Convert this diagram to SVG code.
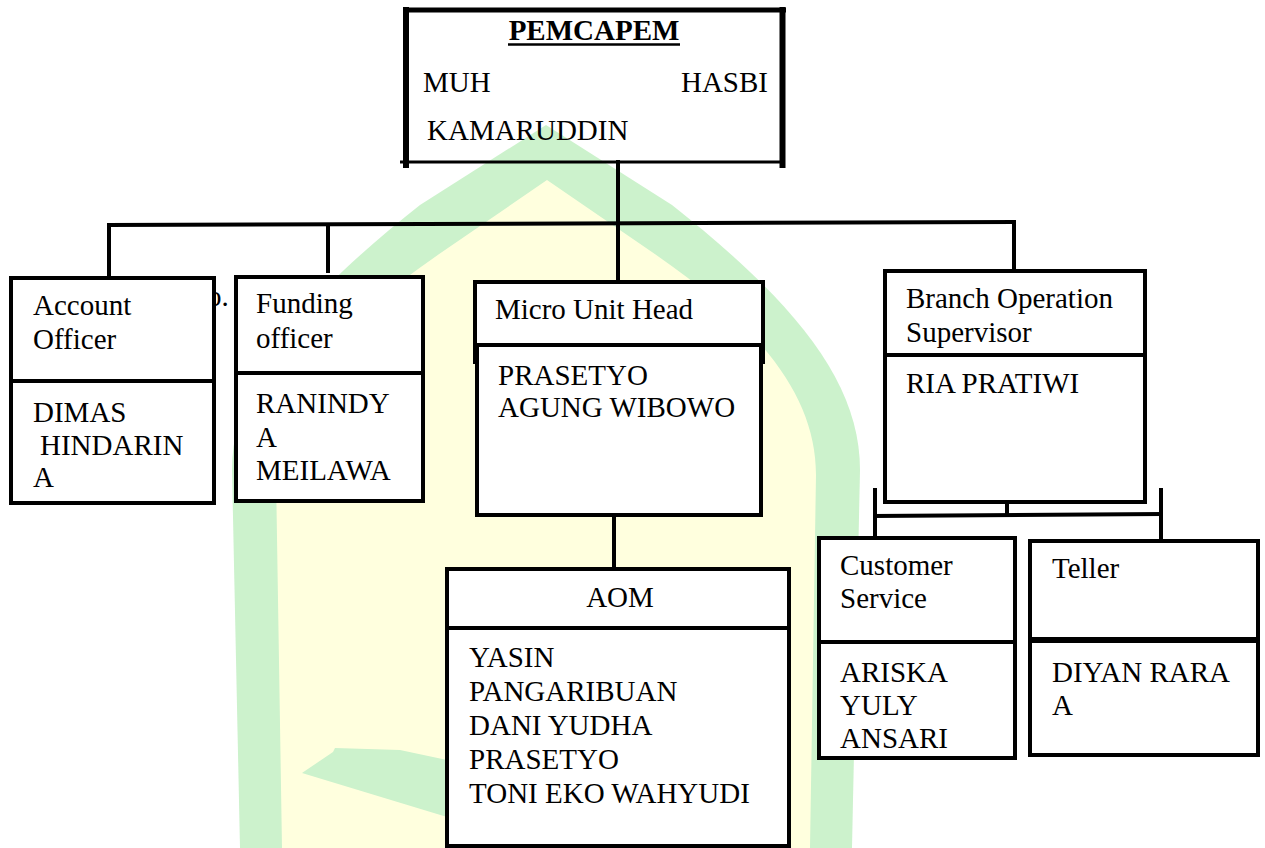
<svg xmlns="http://www.w3.org/2000/svg" width="1265" height="848" viewBox="0 0 1265 848">
<style>
text{font-family:"Liberation Serif","Times New Roman",serif;font-size:29px;fill:#000}
.b{fill:#fff;stroke:#000;stroke-width:4}
.ln{stroke:#000;stroke-width:4;fill:none}
.c{stroke:#000;stroke-width:4;fill:none}
</style>
<rect width="1265" height="848" fill="#fff"/>
<g id="watermark">
<path d="M 240 848 L 232 470 C 232 380 300 300 420 205 L 546 125 L 672 205 C 792 300 860 380 860 470 L 852 848 Z" fill="#ccf2cc"/>
<path d="M 282 848 L 276 475 C 276 395 335 325 445 250 L 547 180 L 649 250 C 759 325 816 395 816 475 L 810 848 Z" fill="#ffffde"/>
<polygon points="302,773 333,752 335,748 400,750 447,760 447,817" fill="#ccf2cc"/>
</g>
<g id="connectors">
<path class="c" d="M 107 225 L 1016 222"/>
<path class="c" d="M 109 223 L 109 277"/>
<path class="c" d="M 328 224 L 328 273"/>
<path class="c" d="M 618 160 L 618 282"/>
<path class="c" d="M 1014 220 L 1014 271"/>
<path class="c" d="M 614 495 L 614 571"/>
<path class="c" d="M 1007 473 L 1007 515"/>
<path class="c" d="M 873 516 L 1163 514"/>
<path class="c" d="M 875 488 L 875 546"/>
<path class="c" d="M 1161 488 L 1161 540"/>
</g>
<g id="pemcapem">
<path d="M 403 10 L 786 10" stroke="#000" stroke-width="5"/>
<path d="M 406 7 L 406 168" stroke="#000" stroke-width="6"/>
<path d="M 782.5 7 L 782.5 168" stroke="#000" stroke-width="6"/>
<path d="M 400 162 L 785 162" stroke="#000" stroke-width="3"/>
<text x="594" y="40" text-anchor="middle" font-weight="bold">PEMCAPEM</text>
<path d="M 508 44.5 L 680 44.5" stroke="#000" stroke-width="2.5"/>
<text x="423" y="92">MUH</text>
<text x="768" y="92" text-anchor="end">HASBI</text>
<text x="427" y="140">KAMARUDDIN</text>
</g>
<text x="207" y="306">o.</text>
<g id="account-officer">
<rect class="b" x="11" y="278" width="203" height="225"/>
<path class="ln" d="M 11 381 L 214 381"/>
<text x="33" y="315">Account</text>
<text x="33" y="349">Officer</text>
<text x="33" y="422">DIMAS</text>
<text x="40" y="455">HINDARIN</text>
<text x="33" y="487">A</text>
</g>
<g id="funding-officer">
<rect class="b" x="236" y="277" width="187" height="224"/>
<path class="ln" d="M 236 373 L 423 373"/>
<text x="256" y="313">Funding</text>
<text x="256" y="348">officer</text>
<text x="256" y="413">RANINDY</text>
<text x="256" y="447">A</text>
<text x="256" y="480">MEILAWA</text>
</g>
<g id="micro-unit-head">
<rect class="b" x="475" y="282" width="288" height="80"/>
<rect class="b" x="477" y="345" width="284" height="170"/>
<text x="495" y="319">Micro Unit Head</text>
<text x="498" y="385">PRASETYO</text>
<text x="498" y="417">AGUNG WIBOWO</text>
</g>
<g id="aom">
<rect class="b" x="447" y="569" width="342" height="277"/>
<path class="ln" d="M 447 628 L 789 628"/>
<text x="620" y="607" text-anchor="middle">AOM</text>
<text x="469" y="667">YASIN</text>
<text x="469" y="701">PANGARIBUAN</text>
<text x="469" y="735">DANI YUDHA</text>
<text x="469" y="769">PRASETYO</text>
<text x="469" y="803">TONI EKO WAHYUDI</text>
</g>
<g id="branch-operation-supervisor">
<rect class="b" x="885" y="271" width="260" height="231"/>
<path class="ln" d="M 885 355 L 1145 355"/>
<text x="906" y="308">Branch Operation</text>
<text x="906" y="342">Supervisor</text>
<text x="906" y="393">RIA PRATIWI</text>
</g>
<g id="customer-service">
<rect class="b" x="819" y="538" width="196" height="220"/>
<path class="ln" d="M 819 642 L 1015 642"/>
<text x="840" y="575">Customer</text>
<text x="840" y="608">Service</text>
<text x="840" y="682">ARISKA</text>
<text x="840" y="715">YULY</text>
<text x="840" y="748">ANSARI</text>
</g>
<g id="teller">
<rect class="b" x="1030" y="541" width="228" height="214"/>
<path d="M 1030 640 L 1258 640" stroke="#000" stroke-width="6"/>
<text x="1052" y="578">Teller</text>
<text x="1052" y="682">DIYAN RARA</text>
<text x="1052" y="715">A</text>
</g>
</svg>
